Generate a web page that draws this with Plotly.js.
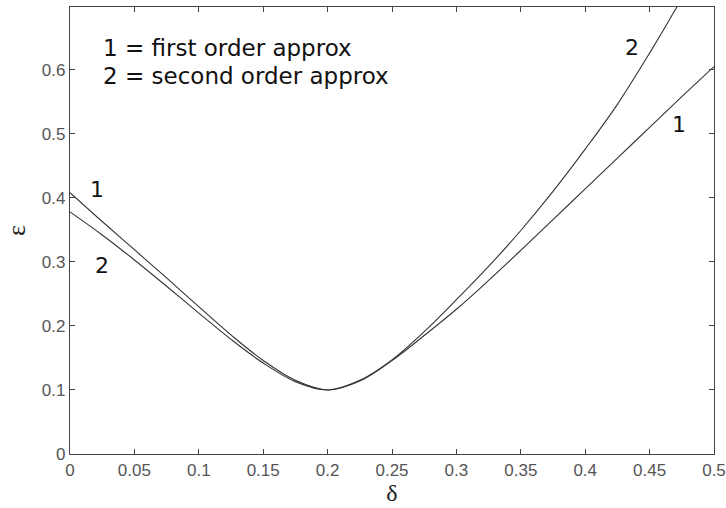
<!DOCTYPE html>
<html>
<head>
<meta charset="utf-8">
<script src="https://cdn.plot.ly/plotly-3.0.1.min.js"></script>
<style>html,body{margin:0;padding:0;background:#fff;}#chart{width:726px;height:508px;}</style>
</head>
<body>
<div id="chart"></div>
<script>
// δ values and ε readings for each approximation
const delta1 = [0, 0.025, 0.05, 0.075, 0.1, 0.125, 0.15, 0.175, 0.2, 0.225, 0.25, 0.275, 0.3, 0.325, 0.35, 0.375, 0.4, 0.425, 0.45, 0.475, 0.5];
const eps1   = [0.408, 0.363, 0.319, 0.275, 0.230, 0.186, 0.146, 0.115, 0.100, 0.114, 0.146, 0.185, 0.226, 0.271, 0.318, 0.366, 0.414, 0.462, 0.510, 0.558, 0.605];

const delta2 = [0, 0.025, 0.05, 0.075, 0.1, 0.125, 0.15, 0.175, 0.2, 0.225, 0.25, 0.275, 0.3, 0.325, 0.35, 0.375, 0.4, 0.425, 0.45, 0.47, 0.48];
const eps2   = [0.378, 0.342, 0.303, 0.262, 0.220, 0.179, 0.142, 0.113, 0.100, 0.115, 0.147, 0.191, 0.241, 0.293, 0.349, 0.410, 0.476, 0.546, 0.626, 0.694, 0.730];

const xTicks = [0, 0.05, 0.1, 0.15, 0.2, 0.25, 0.3, 0.35, 0.4, 0.45, 0.5];
const xTickText = ["0", "0.05", "0.1", "0.15", "0.2", "0.25", "0.3", "0.35", "0.4", "0.45", "0.5"];
const yTicks = [0, 0.1, 0.2, 0.3, 0.4, 0.5, 0.6];
const yTickText = ["0", "0.1", "0.2", "0.3", "0.4", "0.5", "0.6"];

const curveLabels = [
  {text: "1", x: 0.021, y: 0.413},
  {text: "2", x: 0.025, y: 0.295},
  {text: "2", x: 0.436, y: 0.634},
  {text: "1", x: 0.473, y: 0.514}
];
const legendLines = ["1 = first order approx", "2 = second order approx"];

const lineStyle = {color: "#333", width: 1.1, shape: "spline", smoothing: 1};
const traces = [
  {x: delta1, y: eps1, mode: "lines", line: lineStyle, hoverinfo: "skip"},
  {x: delta2, y: eps2, mode: "lines", line: lineStyle, hoverinfo: "skip"}
];

const annotations = curveLabels.map(l => ({
  x: l.x, y: l.y, xref: "x", yref: "y", text: l.text, showarrow: false,
  font: {family: "DejaVu Sans, Arial, sans-serif", size: 22, color: "#111"}
}));
legendLines.forEach((t, i) => {
  annotations.push({
    x: 0.024, y: 0.634 - i * 0.044, xref: "x", yref: "y", xanchor: "left", text: t, showarrow: false,
    font: {family: "DejaVu Sans, Arial, sans-serif", size: 23, color: "#111"}
  });
});

const axisCommon = {
  showgrid: false, zeroline: false, showline: true, linecolor: "#444", linewidth: 1.2,
  mirror: "ticks", ticks: "inside", ticklen: 5, tickcolor: "#444", tickwidth: 1,
  tickfont: {family: "Liberation Sans, Arial, sans-serif", size: 17, color: "#555"}
};

const layout = {
  width: 726, height: 508,
  margin: {l: 70, r: 12, t: 7, b: 54},
  paper_bgcolor: "#fff", plot_bgcolor: "#fff",
  showlegend: false,
  xaxis: Object.assign({}, axisCommon, {
    range: [0, 0.5], tickvals: xTicks, ticktext: xTickText,
    title: {text: "δ", font: {family: "Liberation Serif, Times New Roman, serif", size: 24, color: "#222"}, standoff: 4}
  }),
  yaxis: Object.assign({}, axisCommon, {
    range: [0, 0.698], tickvals: yTicks, ticktext: yTickText,
    title: {text: "ε", font: {family: "Liberation Serif, Times New Roman, serif", size: 26, color: "#222"}, standoff: 8}
  }),
  annotations: annotations
};

Plotly.newPlot("chart", traces, layout, {staticPlot: true, displayModeBar: false});
</script>
</body>
</html>
